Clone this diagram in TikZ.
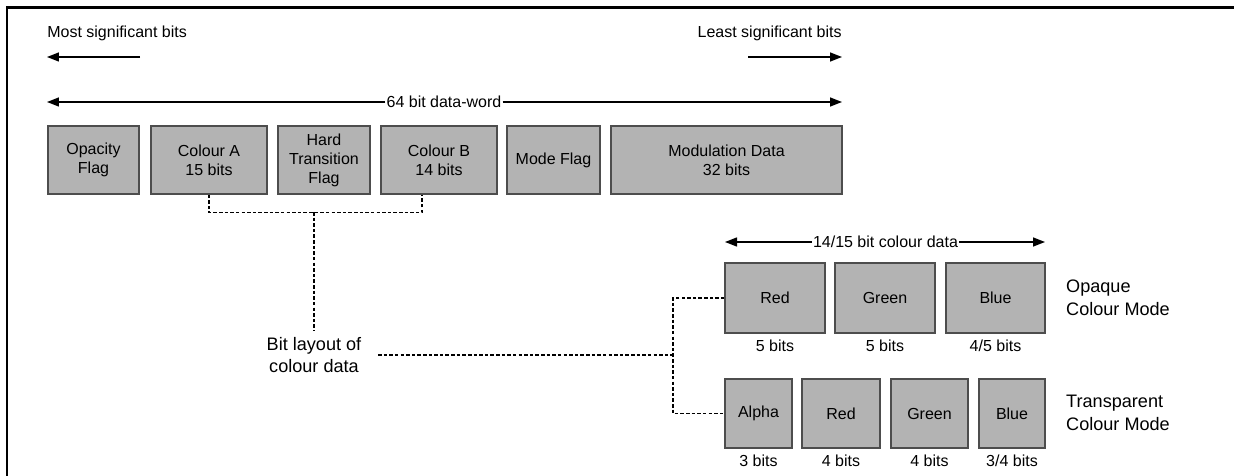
\documentclass[tikz,border=0pt]{standalone}
\usepackage{fontspec}
\setmainfont{Liberation Sans}
\usetikzlibrary{arrows.meta}
\definecolor{fdgray}{HTML}{B3B3B3}
\definecolor{fdedge}{HTML}{4D4D4D}

\begin{document}
\begin{tikzpicture}[x=0.02cm, y=-0.02cm, font=\fontsize{9.1}{10.8}\selectfont,
  field/.style={draw=fdedge, fill=fdgray, line width=0.7pt, align=center, inner sep=0pt},
  arr/.style={line width=0.8pt, -{Triangle[length=0.24cm,width=0.18cm]}},
  link/.style={line width=0.8pt, dash pattern=on 2pt off 1.2pt},
  big/.style={font=\fontsize{10.3}{13}\selectfont, align=left}]
  \useasboundingbox (0,0) rectangle (1234,476);
  % frame (top and left edge only)
  \draw[line width=1.2pt] (7,476) -- (7,7.5) -- (1234,7.5);
  % bit order hints
  \node[anchor=west, inner sep=0pt] (msb) at (47,33) {Most significant bits};
  \node[anchor=east, inner sep=0pt] (lsb) at (842,33) {Least significant bits};
  \coordinate (msbA) at (140,57);
  \coordinate (msbB) at (47,57);
  \coordinate (lsbA) at (748,57);
  \coordinate (lsbB) at (842,57);
  \draw[arr] (msbA) -- (msbB);
  \draw[arr] (lsbA) -- (lsbB);
  % 64 bit word
  \node[inner sep=0.5pt] (word) at (444,102) {64 bit data-word};
  \coordinate (wordL) at (47,102);
  \coordinate (wordR) at (842,102);
  \draw[arr] (word.west) -- (wordL);
  \draw[arr] (word.east) -- (wordR);
  \foreach \n/\x/\w/\t in {opacity/93.5/1.82/{Opacity\\Flag}, colA/209/2.32/{Colour A\\15 bits},
      hard/324/1.84/{Hard\\Transition\\Flag}, colB/439/2.32/{Colour B\\14 bits},
      mode/553.5/1.86/{Mode Flag}, modul/726.5/4.62/{Modulation Data\\32 bits}}{
    \node[field, minimum width=\w cm, minimum height=1.36cm] (\n) at (\x,160) {\t};
  }
  % colour data bracket
  \draw[link] (colA.south) -- ++(0,18) coordinate (brA) -| ([xshift=-0.34cm]colB.south);
  \coordinate (brmid) at (314,212);
  \node[big, align=center] (layout) at (314,355) {Bit layout of\\colour data};
  \draw[link] (brmid) -- (layout.north);
  \coordinate (split) at (673,355);
  \draw[link, shorten <=6pt] (layout.east) -- (split);
  % 14/15 bit colour word
  \node[inner sep=0.5pt] (cword) at (885.5,242) {14/15 bit colour data};
  \coordinate (cwordL) at (725,242);
  \coordinate (cwordR) at (1045,242);
  \draw[arr] (cword.west) -- (cwordL);
  \draw[arr] (cword.east) -- (cwordR);
  % opaque mode
  \foreach \n/\x/\w/\t/\b in {ored/775/2.0/Red/{5 bits}, ogreen/885/2.0/Green/{5 bits},
      oblue/995.5/1.98/Blue/{4/5 bits}}{
    \node[field, minimum width=\w cm, minimum height=1.4cm] (\n) at (\x,298) {\t};
    \node[below] (\n-bits) at (\n.south) {\b};
  }
  % transparent mode
  \foreach \n/\x/\w/\t/\b in {talpha/758.5/1.34/Alpha/{3 bits}, tred/841/1.56/Red/{4 bits},
      tgreen/929.5/1.54/Green/{4 bits}, tblue/1012/1.32/Blue/{3/4 bits}}{
    \node[field, minimum width=\w cm, minimum height=1.38cm] (\n) at (\x,413.5) {\t};
    \node[below] (\n-bits) at (\n.south) {\b};
  }
  \draw[link] (ored.west) -| (split) |- (talpha.west);
  \node[big, anchor=west] (opaque) at (1060,298) {Opaque\\Colour Mode};
  \node[big, anchor=west] (transp) at (1060,413) {Transparent\\Colour Mode};
\end{tikzpicture}
\end{document}
